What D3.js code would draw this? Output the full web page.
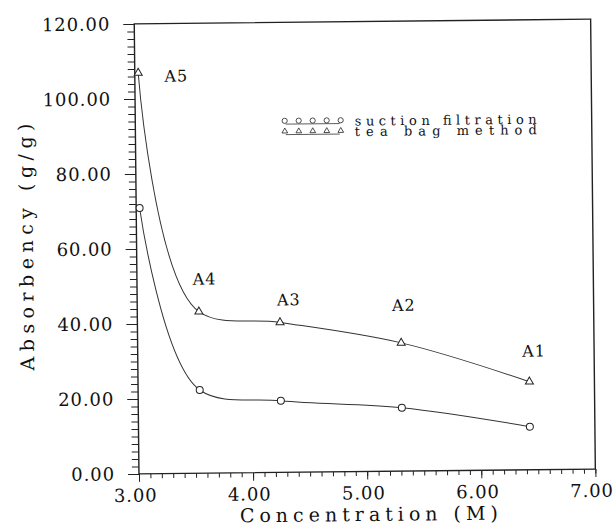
<!DOCTYPE html>
<html>
<head>
<meta charset="utf-8">
<script src="https://cdn.jsdelivr.net/npm/d3@7"></script>
<style>
  body { margin: 0; background: #fff; }
  text { font-family: "DejaVu Serif", "Liberation Serif", serif; fill: #111; }
</style>
</head>
<body>
<svg width="614" height="527"></svg>
<script>
const concentration = [3.03, 3.54, 4.25, 5.31, 6.43];
const suctionFiltration = [70.9, 22.2, 19.1, 16.9, 11.5];
const teaBagMethod = [106.9, 43.1, 40.0, 34.2, 23.5];
const sampleNames = ['A5', 'A4', 'A3', 'A2', 'A1'];
const xTickValues = [3, 4, 5, 6, 7];
const yTickValues = [0, 20, 40, 60, 80, 100, 120];
const legendNames = ['suction filtration', 'tea bag method'];

// label offsets from the tea bag markers, in px
const labelOffsets = [[38, 9], [6, -27], [9, -17], [3, -32], [5, -25]];

const svg = d3.select('svg');
const width = 614;
const height = 527;
const margin = { left: 136.6, right: 21, top: 21.5, bottom: 55.5 };
const serif = '"DejaVu Serif", "Liberation Serif", serif';

const x = d3.scaleLinear().domain([3, 7]).range([margin.left, width - margin.right]);
const y = d3.scaleLinear().domain([0, 120]).range([height - margin.bottom, margin.top]);

svg.append('rect').attr('width', width).attr('height', height).attr('fill', '#fff');

// the scanned figure is tilted a little
const g = svg.append('g').attr('transform', 'rotate(-0.6, 365, 246.5)');

const fmt = d3.format('.2f');

// x axis: minor ticks every 0.1, majors with labels
g.append('g')
  .attr('transform', `translate(0,${y(0)})`)
  .call(d3.axisBottom(x).tickValues(d3.range(30, 71).map(d => d / 10)).tickSize(4.5).tickSizeOuter(0).tickFormat(''))
  .call(a => a.select('.domain').remove());
g.append('g')
  .attr('class', 'xmajor')
  .attr('transform', `translate(0,${y(0)})`)
  .call(d3.axisBottom(x).tickValues(xTickValues).tickSize(8).tickSizeOuter(0).tickPadding(7).tickFormat(fmt))
  .call(a => a.select('.domain').remove());

// y axis: minor ticks every 2
g.append('g')
  .attr('transform', `translate(${x(3)},0)`)
  .call(d3.axisLeft(y).tickValues(d3.range(0, 121, 2)).tickSize(7).tickSizeOuter(0).tickFormat(''))
  .call(a => a.select('.domain').remove());
g.append('g')
  .attr('class', 'ymajor')
  .attr('transform', `translate(${x(3)},0)`)
  .call(d3.axisLeft(y).tickValues(yTickValues).tickSize(11).tickSizeOuter(0).tickPadding(13).tickFormat(fmt))
  .call(a => a.select('.domain').remove());

g.selectAll('.tick line').attr('stroke', '#222').attr('stroke-width', 1);
g.selectAll('.xmajor text, .ymajor text')
  .attr('font-family', serif)
  .attr('font-size', 18)
  .attr('letter-spacing', 0.9)
  .attr('fill', '#111');
g.selectAll('.xmajor text').attr('dx', -4);

// frame
g.append('path')
  .attr('d', `M${x(3)},${y(120)}V${y(0)}H${x(7)}V${y(120)}Z`)
  .attr('fill', 'none')
  .attr('stroke', '#222')
  .attr('stroke-width', 1.4);

// curves
const line = d3.line()
  .x((d, i) => x(concentration[i]))
  .y(d => y(d))
  .curve(d3.curveCatmullRom.alpha(0.65));

[suctionFiltration, teaBagMethod].forEach(series => {
  g.append('path')
    .attr('d', line(series))
    .attr('fill', 'none')
    .attr('stroke', '#333')
    .attr('stroke-width', 1);
});

const triangle = d3.symbol().type(d3.symbolTriangle).size(28);

g.selectAll('.circ')
  .data(suctionFiltration)
  .join('circle')
  .attr('cx', (d, i) => x(concentration[i]))
  .attr('cy', d => y(d))
  .attr('r', 3.5)
  .attr('fill', '#fff')
  .attr('stroke', '#222');

g.selectAll('.tri')
  .data(teaBagMethod)
  .join('path')
  .attr('d', triangle)
  .attr('transform', (d, i) => `translate(${x(concentration[i])},${y(d)})`)
  .attr('fill', '#fff')
  .attr('stroke', '#222');

g.selectAll('.sample')
  .data(sampleNames)
  .join('text')
  .attr('x', (d, i) => x(concentration[i]) + labelOffsets[i][0])
  .attr('y', (d, i) => y(teaBagMethod[i]) + labelOffsets[i][1])
  .attr('text-anchor', 'middle')
  .attr('font-size', 16)
  .attr('letter-spacing', 1)
  .text(d => d);

// legend
const legend = g.append('g').attr('transform', 'translate(286,120)');
legendNames.forEach((name, k) => {
  const row = legend.append('g').attr('transform', `translate(0,${k * 10.5})`);
  row.append('line')
    .attr('x1', 1).attr('x2', 55).attr('y1', 3.3).attr('y2', 3.3)
    .attr('stroke', '#333').attr('stroke-width', 0.8);
  d3.range(5).forEach(j => {
    if (k === 0) {
      row.append('circle').attr('cx', j * 14).attr('cy', 0).attr('r', 2.6)
        .attr('fill', '#fff').attr('stroke', '#222').attr('stroke-width', 0.8);
    } else {
      row.append('path').attr('d', d3.symbol().type(d3.symbolTriangle).size(14))
        .attr('transform', `translate(${j * 14},0)`)
        .attr('fill', '#fff').attr('stroke', '#222').attr('stroke-width', 0.8);
    }
  });
  row.append('text')
    .attr('x', 70)
    .attr('y', 5.5)
    .attr('font-size', 13)
    .attr('textLength', 182)
    .attr('lengthAdjust', 'spacing')
    .text(name);
});

// axis titles
g.append('text')
  .attr('x', 366)
  .attr('y', 521)
  .attr('text-anchor', 'middle')
  .attr('font-size', 19)
  .attr('textLength', 258)
  .attr('lengthAdjust', 'spacing')
  .text('Concentration (M)');

g.append('text')
  .attr('transform', 'translate(33,243.5) rotate(-90)')
  .attr('text-anchor', 'middle')
  .attr('font-size', 19)
  .attr('textLength', 247)
  .attr('lengthAdjust', 'spacing')
  .text('Absorbency (g/g)');
</script>
</body>
</html>
